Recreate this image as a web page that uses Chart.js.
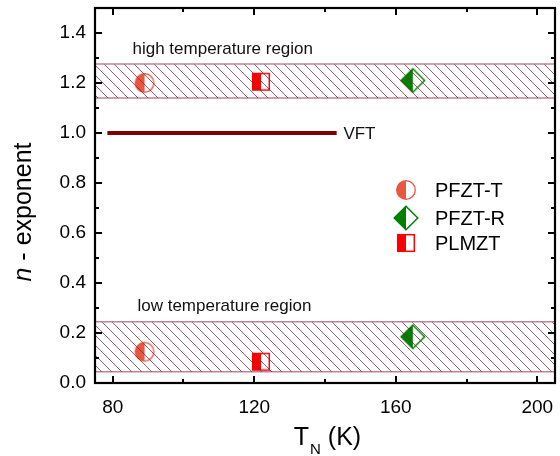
<!DOCTYPE html>
<html>
<head>
<meta charset="utf-8">
<script src="https://cdn.jsdelivr.net/npm/chart.js@4.4.1/dist/chart.umd.min.js"></script>
<style>
html,body{margin:0;padding:0;background:#fff;}
#wrap{width:560px;height:456px;}
</style>
</head>
<body>
<div id="wrap"><canvas id="c" width="560" height="456"></canvas></div>
<script>
// ---- data ----
const seriesNames = ['PFZT-T', 'PFZT-R', 'PLMZT'];
const pfztT_x = [89.0, 89.0];
const pfztT_y = [1.20, 0.125];
const pfztR_x = [164.8, 164.8];
const pfztR_y = [1.21, 0.185];
const plmzt_x = [121.9, 121.9];
const plmzt_y = [1.205, 0.085];
const highBand = [1.14, 1.276];   // n range, high temperature region
const lowBand = [0.045, 0.245];   // n range, low temperature region
const vftX = [78.5, 143.3];
const vftY = [1.0, 1.0];
const xRange = [75, 205];
const yRange = [0, 1.5];
const xTicks = [80, 120, 160, 200];
const yTicks = [0.0, 0.2, 0.4, 0.6, 0.8, 1.0, 1.2, 1.4];
const xMinor = [100, 140, 180];
const yMinor = [0.1, 0.3, 0.5, 0.7, 0.9, 1.1, 1.3];

const FONT = "'Liberation Sans', Arial, sans-serif";
const C_T = '#e8573f', C_R = '#008000', C_P = '#ff0000';

function pts(xs, ys){ return xs.map((x,i)=>({x:x, y:ys[i]})); }

// ---- marker images ----
function mk(w, h, draw){ const c=document.createElement('canvas'); c.width=w; c.height=h; draw(c.getContext('2d'), w/2, h/2); return c; }
const imgCircle = mk(22,22,(g,cx,cy)=>{
  const r=9.3;
  g.fillStyle='#fff'; g.beginPath(); g.arc(cx,cy,r,0,Math.PI*2); g.fill();
  g.fillStyle=C_T; g.beginPath(); g.moveTo(cx,cy-r); g.arc(cx,cy,r,-Math.PI/2,Math.PI/2,true); g.closePath(); g.fill();
  g.strokeStyle=C_T; g.lineWidth=1.3; g.beginPath(); g.arc(cx,cy,r,0,Math.PI*2); g.stroke();
});
const imgSquare = mk(22,22,(g,cx,cy)=>{
  const s=8.3;
  g.fillStyle='#fff'; g.fillRect(cx-s,cy-s,2*s,2*s);
  g.fillStyle=C_P; g.fillRect(cx-s,cy-s,s,2*s);
  g.strokeStyle=C_P; g.lineWidth=1.5; g.strokeRect(cx-s,cy-s,2*s,2*s);
});
const imgDiamond = mk(28,28,(g,cx,cy)=>{
  const s=11.8;
  g.fillStyle='#fff'; g.beginPath(); g.moveTo(cx,cy-s); g.lineTo(cx+s,cy); g.lineTo(cx,cy+s); g.lineTo(cx-s,cy); g.closePath(); g.fill();
  g.fillStyle=C_R; g.beginPath(); g.moveTo(cx,cy-s); g.lineTo(cx,cy+s); g.lineTo(cx-s,cy); g.closePath(); g.fill();
  g.strokeStyle=C_R; g.lineWidth=1.5; g.beginPath(); g.moveTo(cx,cy-s); g.lineTo(cx+s,cy); g.lineTo(cx,cy+s); g.lineTo(cx-s,cy); g.closePath(); g.stroke();
});

// ---- hatch pattern ----
const pc = document.createElement('canvas'); pc.width=10; pc.height=10;
(function(){ const g=pc.getContext('2d'); g.strokeStyle='rgba(125,35,65,0.75)'; g.lineWidth=1;
  g.beginPath(); g.moveTo(-1,-1); g.lineTo(11,11); g.moveTo(-1,9); g.lineTo(1,11); g.moveTo(9,-1); g.lineTo(11,1); g.stroke(); })();
const hatch = pc.getContext('2d').createPattern(pc,'repeat');
const BAND_BORDER = 'rgba(180,120,140,0.9)';

function bandLine(y){ return [{x:xRange[0], y:y},{x:xRange[1], y:y}]; }

const annotations = [
  {text:'high temperature region', x:85.6, y:1.315},
  {text:'low temperature region', x:87.0, y:0.29},
  {text:'VFT', x:145.2, y:0.975}
];

const customPlugin = {
  id:'custom',
  afterDatasetsDraw(chart){
    const ctx=chart.ctx, xs=chart.scales.x, ys=chart.scales.y, a=chart.chartArea;
    ctx.save();
    ctx.fillStyle='#111'; ctx.font='17px '+FONT; ctx.textAlign='left'; ctx.textBaseline='alphabetic';
    annotations.forEach(an=>{ ctx.fillText(an.text, xs.getPixelForValue(an.x), ys.getPixelForValue(an.y)); });
    // legend
    const items=[[imgCircle,seriesNames[0]],[imgDiamond,seriesNames[1]],[imgSquare,seriesNames[2]]];
    const ly=[190,218,243];
    ctx.font='20px '+FONT; ctx.textBaseline='middle'; ctx.fillStyle='#000';
    items.forEach((it,i)=>{
      const im=it[0]; ctx.drawImage(im, 406-im.width/2, ly[i]-im.height/2);
      ctx.fillText(it[1], 435, ly[i]+1);
    });
    ctx.restore();
  },
  afterDraw(chart){
    const ctx=chart.ctx, xs=chart.scales.x, ys=chart.scales.y, a=chart.chartArea;
    ctx.save();
    ctx.strokeStyle='#000'; ctx.lineWidth=2.2;
    ctx.strokeRect(a.left, a.top, a.right-a.left, a.bottom-a.top);
    ctx.lineWidth=2;
    ctx.beginPath();
    const tick=(vals,len)=>{
      vals.forEach(v=>{ const px=Math.round(xs.getPixelForValue(v));
        ctx.moveTo(px,a.bottom); ctx.lineTo(px,a.bottom-len); ctx.moveTo(px,a.top); ctx.lineTo(px,a.top+len); });
    };
    const tickY=(vals,len)=>{
      vals.forEach(v=>{ const py=Math.round(ys.getPixelForValue(v));
        ctx.moveTo(a.left,py); ctx.lineTo(a.left+len,py); ctx.moveTo(a.right,py); ctx.lineTo(a.right-len,py); });
    };
    tick(xTicks,7); tick(xMinor,4); tickY(yTicks,7); tickY(yMinor,4);
    ctx.stroke();
    // x title
    ctx.fillStyle='#000'; ctx.textBaseline='alphabetic'; ctx.textAlign='left';
    ctx.font='25px '+FONT; const wT=ctx.measureText('T').width; const wK=ctx.measureText(' (K)').width;
    ctx.font='15px '+FONT; const wN=ctx.measureText('N').width;
    let x0=(a.left+a.right)/2 - (wT+wN+wK)/2 + 2; const by=445;
    ctx.font='25px '+FONT; ctx.fillText('T',x0,by);
    ctx.font='15px '+FONT; ctx.fillText('N',x0+wT+1,by+9);
    ctx.font='25px '+FONT; ctx.fillText(' (K)',x0+wT+wN+1,by);
    // y title
    ctx.translate(31, 212); ctx.rotate(-Math.PI/2);
    ctx.font='italic 25px '+FONT; const wn=ctx.measureText('n').width;
    ctx.font='25px '+FONT; const wr=ctx.measureText(' - exponent').width;
    let s=-(wn+wr)/2;
    ctx.font='italic 25px '+FONT; ctx.fillText('n',s,0);
    ctx.font='25px '+FONT; ctx.fillText(' - exponent',s+wn,0);
    ctx.restore();
  }
};

new Chart(document.getElementById('c'), {
  type:'scatter',
  data:{ datasets:[
    {type:'line', data:bandLine(highBand[1]), borderColor:BAND_BORDER, borderWidth:1.5, pointRadius:0, fill:'+1', backgroundColor:hatch},
    {type:'line', data:bandLine(highBand[0]), borderColor:BAND_BORDER, borderWidth:1.5, pointRadius:0, fill:false},
    {type:'line', data:bandLine(lowBand[1]), borderColor:BAND_BORDER, borderWidth:1.5, pointRadius:0, fill:'+1', backgroundColor:hatch},
    {type:'line', data:bandLine(lowBand[0]), borderColor:BAND_BORDER, borderWidth:1.5, pointRadius:0, fill:false},
    {type:'line', data:pts(vftX,vftY), borderColor:'#800000', borderWidth:4, pointRadius:0, fill:false},
    {label:seriesNames[0], data:pts(pfztT_x,pfztT_y), pointStyle:imgCircle},
    {label:seriesNames[1], data:pts(pfztR_x,pfztR_y), pointStyle:imgDiamond},
    {label:seriesNames[2], data:pts(plmzt_x,plmzt_y), pointStyle:imgSquare}
  ]},
  options:{
    responsive:false, animation:false, devicePixelRatio:1,
    layout:{padding:{top:8, right:3, left:0, bottom:0}},
    plugins:{legend:{display:false}, tooltip:{enabled:false}},
    scales:{
      x:{type:'linear', min:xRange[0], max:xRange[1],
        grid:{display:false, drawTicks:false}, border:{display:false},
        afterBuildTicks:s=>{ s.ticks=xTicks.map(v=>({value:v})); },
        afterFit:s=>{ s.height=73; s.paddingLeft=0; s.paddingRight=0; },
        ticks:{font:{family:FONT,size:19}, color:'#000', padding:13, maxRotation:0, callback:v=>String(v)}},
      y:{type:'linear', min:yRange[0], max:yRange[1],
        grid:{display:false, drawTicks:false}, border:{display:false},
        afterBuildTicks:s=>{ s.ticks=yTicks.map(v=>({value:v})); },
        afterFit:s=>{ s.width=95; s.paddingTop=0; s.paddingBottom=0; },
        ticks:{font:{family:FONT,size:19}, color:'#000', padding:9, callback:v=>Number(v).toFixed(1)}}
    }
  },
  plugins:[customPlugin]
});
</script>
</body>
</html>
